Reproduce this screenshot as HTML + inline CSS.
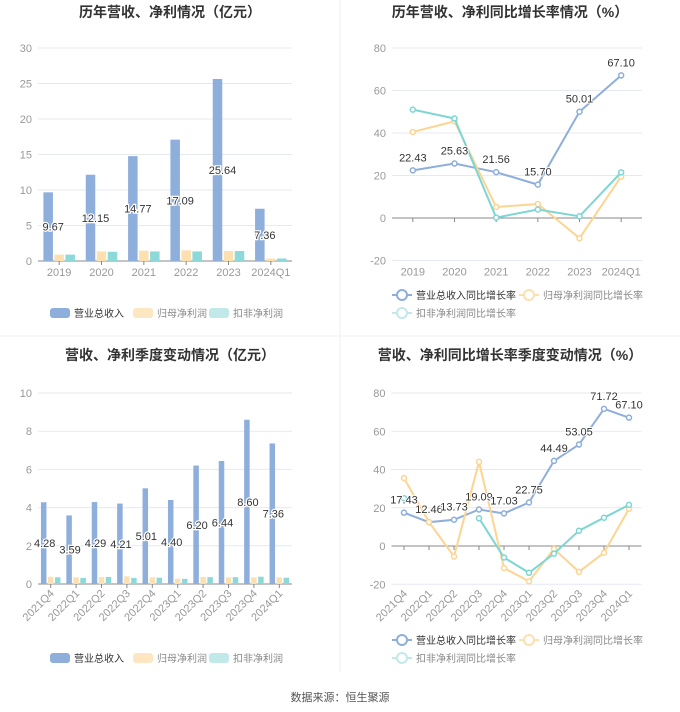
<!DOCTYPE html>
<html><head><meta charset="utf-8"><style>
body{margin:0;background:#fff;font-family:"Liberation Sans","Noto Sans CJK SC",sans-serif;}
svg{display:block}
text{font-family:"Liberation Sans","Noto Sans CJK SC",sans-serif}
</style></head><body>
<svg id="s" width="680" height="712" xmlns="http://www.w3.org/2000/svg">
<rect width="680" height="712" fill="#fff"/>
<line x1="340" y1="0" x2="340" y2="672" stroke="#eee"/>
<line x1="0" y1="336" x2="680" y2="336" stroke="#f2f2f2"/>
<text x="170" y="17" text-anchor="middle" font-size="14" font-weight="bold" fill="#333">历年营收、净利情况（亿元）</text>
<text x="510" y="17" text-anchor="middle" font-size="14" font-weight="bold" fill="#333">历年营收、净利同比增长率情况（%）</text>
<text x="170" y="360" text-anchor="middle" font-size="14" font-weight="bold" fill="#333">营收、净利季度变动情况（亿元）</text>
<text x="510" y="360" text-anchor="middle" font-size="14" font-weight="bold" fill="#333">营收、净利同比增长率季度变动情况（%）</text>
<text x="340" y="701" text-anchor="middle" font-size="11" fill="#555">数据来源：恒生聚源</text>
</svg>
<script>
const yearCats=["2019","2020","2021","2022","2023","2024Q1"];
const yearRevenue=[9.67,12.15,14.77,17.09,25.64,7.36];
const yearNetProfit=[0.9,1.35,1.45,1.5,1.4,0.35];
const yearDeducted=[0.9,1.3,1.35,1.35,1.4,0.35];
const yearRevGrowth=[22.43,25.63,21.56,15.70,50.01,67.10];
const yearNetGrowth=[40.5,45.5,5.2,6.6,-9.5,19.5];
const yearDedGrowth=[51,46.8,0.2,4,0.8,21.5];
const qCats=["2021Q4","2022Q1","2022Q2","2022Q3","2022Q4","2023Q1","2023Q2","2023Q3","2023Q4","2024Q1"];
const qRevenue=[4.28,3.59,4.29,4.21,5.01,4.40,6.20,6.44,8.60,7.36];
const qNetProfit=[0.38,0.35,0.37,0.40,0.35,0.28,0.37,0.35,0.35,0.35];
const qDeducted=[0.35,0.32,0.37,0.32,0.33,0.27,0.36,0.36,0.38,0.33];
const qRevGrowth=[17.43,12.46,13.73,19.09,17.03,22.75,44.49,53.05,71.72,67.10];
const qNetGrowth=[35.5,12.5,-5.5,44,-11.5,-18.5,-1.5,-13.5,-3.5,19.5];
const qDedGrowth=[25,null,null,14.5,-6,-14,-4,8,14.8,21.5];
const barTicks1=[0,5,10,15,20,25,30];
const lineTicks=[-20,0,20,40,60,80];
const barTicks3=[0,2,4,6,8,10];

const S=document.getElementById('s');const NS="http://www.w3.org/2000/svg";
function mk(t,a,txt){const e=document.createElementNS(NS,t);for(const k in a)e.setAttribute(k,a[k]);if(txt!=null)e.textContent=txt;S.appendChild(e);return e;}
const C1="#8eaedb",C2="#fde0b0",C3="#8dd8d8";

function axes(x0,x1,yScale,ticks,cats,xc,rot,pre){
  const by=yScale(Math.min(...ticks));
  ticks.forEach(t=>{const y=yScale(t);
    const g=mk('line',{x1:x0,x2:x1,y1:y,y2:y,stroke:t===0?'#888':'#e6e9f2'});
    
    const l=mk('text',{x:x0-6,y:y+4,'text-anchor':'end','font-size':11,fill:'#999'},String(t));
    });
  cats.forEach((c,i)=>{const x=xc(i);let l;
    const tk=mk('line',{x1:x,x2:x,y1:yScale(0),y2:yScale(0)+4,stroke:'#888'});
    
    if(rot){l=mk('text',{x:x+4,y:by+10,'text-anchor':'end','font-size':11,fill:'#999',transform:`rotate(-45 ${x+4} ${by+10})`},c);}
    else l=mk('text',{x:x,y:by+15,'text-anchor':'middle','font-size':11,fill:'#999'},c);
    });
}
function bars(x0,x1,yScale,cats,series,bw,pre){
  const step=(x1-x0)/cats.length;const xc=i=>x0+step*(i+0.5);
  series.forEach((s,si)=>{s.v.forEach((v,i)=>{const x=xc(i)+(si-1)*(bw+1.5)-bw/2;
    const r=mk('rect',{x:x,y:yScale(v),width:bw,height:yScale(0)-yScale(v),fill:s.c});
    });});
  series[0].v.forEach((v,i)=>{const t=mk('text',{x:xc(i)-6,y:(yScale(v)+yScale(0))/2+4,'text-anchor':'middle','font-size':11,fill:'#333',stroke:'#fff','stroke-width':2.5,'paint-order':'stroke'},v.toFixed(2));
    });
  return xc;
}
function lines(xc,yScale,series,pre){
  series.forEach(s=>{let d="";let pen=false;
    s.v.forEach((v,i)=>{if(v==null){pen=false;return;}d+=(pen?"L":"M")+xc(i)+","+yScale(v);pen=true;});
    const p=mk('path',{d:d,fill:'none',stroke:s.c,'stroke-width':2});
    
    s.v.forEach((v,i)=>{if(v==null)return;const c=mk('circle',{cx:xc(i),cy:yScale(v),r:2.5,fill:'#fff',stroke:s.c,'stroke-width':1.5});
      });});
  series[0].v.forEach((v,i)=>{const t=mk('text',{x:xc(i),y:yScale(v)-9,'text-anchor':'middle','font-size':11,fill:'#333',stroke:'#fff','stroke-width':2,'paint-order':'stroke'},v.toFixed(2));
    });
}
function barLegend(y,pre){
  const items=[["营业总收入",C1,50,"#333"],["归母净利润","#fde7c2",133,"#888"],["扣非净利润","#c2e9ea",209,"#888"]];
  items.forEach(it=>{const r=mk('rect',{x:it[2],y:y-5,width:20,height:10,rx:3,fill:it[1]});
    
    const t=mk('text',{x:it[2]+24,y:y+4,'font-size':10,fill:it[3]},it[0]);
    });
}
function lineLegend(y,pre){
  const items=[["营业总收入同比增长率",C1,392,y,"#333"],["归母净利润同比增长率","#fde0b0",519,y,"#888"],["扣非净利润同比增长率","#c2e9ea",392,y+18,"#888"]];
  items.forEach(it=>{const l=mk('line',{x1:it[2],x2:it[2]+20,y1:it[3],y2:it[3],stroke:it[1],'stroke-width':2});
    
    const c=mk('circle',{cx:it[2]+10,cy:it[3],r:5,fill:'#fff',stroke:it[1],'stroke-width':2});
    
    const t=mk('text',{x:it[2]+24,y:it[3]+4,'font-size':10,fill:it[4]},it[0]);
    });
}
// Chart1
{const y=v=>261-v*(213/30);const x0=38,x1=292;const st=(x1-x0)/yearCats.length;const xc=i=>x0+st*(i+0.5);
 axes(x0,x1,y,barTicks1,yearCats,xc,false,'chart1');
 bars(x0,x1,y,yearCats,[{v:yearRevenue,c:C1,n:'revenue'},{v:yearNetProfit,c:C2,n:'net-profit'},{v:yearDeducted,c:C3,n:'deducted-profit'}],9.5,'chart1');
 barLegend(313,'chart1');}
// Chart2
{const y=v=>218-v*(170/80);const x0=392,x1=642;const st=(x1-x0)/yearCats.length;const xc=i=>x0+st*(i+0.5);
 axes(x0,x1,y,lineTicks,yearCats,xc,false,'chart2');
 lines(xc,y,[{v:yearRevGrowth,c:C1,n:'revenue-growth'},{v:yearNetGrowth,c:"#fdd491",n:'net-growth'},{v:yearDedGrowth,c:"#7dd6d4",n:'deducted-growth'}],'chart2');
 lineLegend(295,'chart2');}
// Chart3
{const y=v=>584-v*19.1;const x0=38,x1=292;const st=(x1-x0)/qCats.length;const xc=i=>x0+st*(i+0.5);
 axes(x0,x1,y,barTicks3,qCats,xc,true,'chart3');
 bars(x0,x1,y,qCats,[{v:qRevenue,c:C1,n:'revenue'},{v:qNetProfit,c:C2,n:'net-profit'},{v:qDeducted,c:C3,n:'deducted-profit'}],5.5,'chart3');
 barLegend(658,'chart3');}
// Chart4
{const y=v=>546-v*1.9125;const x0=391.5,x1=641.5;const st=(x1-x0)/qCats.length;const xc=i=>x0+st*(i+0.5);
 axes(x0,x1,y,lineTicks,qCats,xc,true,'chart4');
 lines(xc,y,[{v:qRevGrowth,c:C1,n:'revenue-growth'},{v:qNetGrowth,c:"#fdd491",n:'net-growth'},{v:qDedGrowth,c:"#7dd6d4",n:'deducted-growth'}],'chart4');
 lineLegend(640,'chart4');}
</script>
</body></html>
